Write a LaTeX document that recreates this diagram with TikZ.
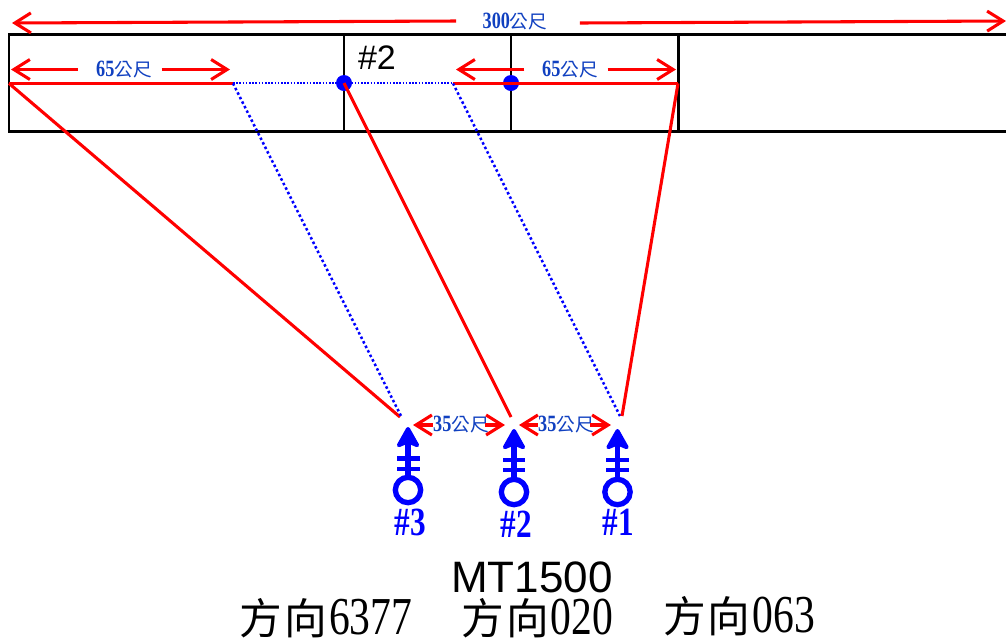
\documentclass[tikz,border=0pt]{standalone}
\usepackage{fontspec}
\newfontfamily\cjkfont{Noto Sans CJK TC}
\newfontfamily\numfont[FakeStretch=0.78,Scale=1.25]{Liberation Serif}
\newfontfamily\labelfont{Liberation Sans}
\usetikzlibrary{arrows.meta}
\definecolor{dimblue}{RGB}{16,64,192}
\newcommand{\dimtext}[1]{{\numfont\bfseries #1}{\cjkfont 公尺}}
\newcommand{\dirtext}[1]{{\cjkfont 方\hspace{1.5pt}向\hspace{1.5pt}}{\numfont #1}}
\tikzset{every picture/.style={line width=0.75pt}}
\tikzset{
	redline/.style={draw=red,line width=2.3pt},
	dimline/.style={draw=red,line width=2.3pt,-{Straight Barb[length=12pt,width=15pt,line width=2.3pt]}},
	dotline/.style={draw=blue,line width=1.9pt,dash pattern=on 1.9pt off 1.9pt},
	dotthin/.style={draw=blue,line width=1.5pt,dash pattern=on 1.2pt off 1.2pt},
	dimlabel/.style={text=dimblue,font=\fontsize{14}{16}\selectfont,inner sep=0pt},
	antenna/.style={circle,draw=blue,line width=4pt,minimum size=19pt,inner sep=0pt},
	mast/.style={draw=blue,line width=4pt,-{Stealth[length=18pt,width=20pt,inset=4pt,line width=3pt,round]}},
	crossbar/.style={draw=blue,line width=3.2pt},
	sitelabel/.style={text=blue,font=\fontsize{24}{30}\selectfont\numfont\bfseries,inner sep=0pt},
	dirlabel/.style={font=\fontsize{32}{36}\selectfont,inner sep=0pt}
}
\begin{document}
\begin{tikzpicture}[x=0.75pt,y=0.75pt,yscale=-1]
	\useasboundingbox (0,0) rectangle (1006,637);
	%Shape: Rectangle
	\draw [line width=2.1pt] (1012,34.5) -- (9,34.5) -- (9,131.5) -- (1012,131.5) ;
	%Straight Lines
	\draw [line width=2.2pt] (344,34.5) -- (344,131.5) ;
	\draw [line width=2.2pt] (511,34.5) -- (511,131.5) ;
	\draw [line width=2.3pt] (678.4,34.5) -- (678.4,131.5) ;
	\node [font=\fontsize{25.5}{28}\selectfont\labelfont,inner sep=0pt] (boxno) at (377,58) {\#2};

	%Points on the middle line
	\coordinate (far) at (9,83.4);
	\coordinate (farend) at (233,83.4);
	\coordinate (nearstart) at (453,83.4);
	\coordinate (near) at (678,83.4);
	\node [circle,fill=blue,minimum size=12pt,inner sep=0pt] (dotA) at (344,83) {};
	\node [circle,fill=blue,minimum size=12pt,inner sep=0pt] (dotB) at (511,83) {};
	\draw [dotthin] (farend) -- (nearstart) ;
	\draw [redline] (far) -- (farend) ;
	\draw [redline] (nearstart) -- (near) ;

	%Top dimensions
	\node [dimlabel] (lab300) at (515,22) {\dimtext{300}};
	\coordinate (tip300a) at (12,23);
	\coordinate (tip300b) at (1006,21);
	\draw [dimline] ([xshift=-19.5pt,yshift=-0.75pt]lab300.west) -- (tip300a) ;
	\draw [dimline] ([xshift=24pt,yshift=0.75pt]lab300.east) -- (tip300b) ;
	\node [dimlabel] (lab65a) at (124,69.5) {\dimtext{65}};
	\coordinate (tip65a) at (11,69.5);
	\coordinate (tip65b) at (230,69.5);
	\draw [dimline] ([xshift=-13.5pt]lab65a.west) -- (tip65a) ;
	\draw [dimline] ([xshift=7pt]lab65a.east) -- (tip65b) ;
	\node [dimlabel] (lab65b) at (570,69.5) {\dimtext{65}};
	\coordinate (tip65c) at (456,69.5);
	\coordinate (tip65d) at (676,69.5);
	\draw [dimline] ([xshift=-13pt]lab65b.west) -- (tip65c) ;
	\draw [dimline] ([xshift=7pt]lab65b.east) -- (tip65d) ;

	%Antennas
	\node [antenna] (ant3) at (408,490) {};
	\node [antenna] (ant2) at (514,492) {};
	\node [antenna] (ant1) at (617.5,492) {};
	\coordinate (tip3) at (408,427);
	\coordinate (tip2) at (514,429);
	\coordinate (tip1) at (617.5,429);
	\draw [mast] (ant3) -- (tip3) ;
	\draw [mast] (ant2) -- (tip2) ;
	\draw [mast] (ant1) -- (tip1) ;
	%Straight Lines
	\draw [crossbar] (397,458.5) -- (420,458.5) ;
	\draw [crossbar] (397,469) -- (420,469) ;
	\draw [crossbar] (503,460) -- (525,460) ;
	\draw [crossbar] (503,470) -- (525,470) ;
	\draw [crossbar] (606,460) -- (629,460) ;
	\draw [crossbar] (606,470) -- (629,470) ;
	\node [sitelabel] (site3) at (410,522) {\#3};
	\node [sitelabel] (site2) at (516,524) {\#2};
	\node [sitelabel] (site1) at (618,522) {\#1};

	%Beam ends
	\coordinate (foot3a) at (400,417);
	\coordinate (foot3b) at (401,416);
	\coordinate (foot2) at (511,417);
	\coordinate (foot1a) at (620,416);
	\coordinate (foot1b) at (622,416);
	\draw [redline] (far) -- (foot3a) ;
	\draw [dotline] (farend) -- (foot3b) ;
	\draw [redline] (dotA.center) -- (foot2) ;
	\draw [dotline] (nearstart) -- (foot1a) ;
	\draw [redline] (near) -- (foot1b) ;

	%Bottom dimensions
	\node [dimlabel] (lab35a) at (461,425) {\dimtext{35}};
	\coordinate (tip35a) at (413,425);
	\coordinate (tip35b) at (505,425);
	\draw [dimline] (lab35a.west) -- (tip35a) ;
	\draw [dimline] ([xshift=-3pt]lab35a.east) -- (tip35b) ;
	\node [dimlabel] (lab35b) at (566,425) {\dimtext{35}};
	\coordinate (tip35c) at (519,425);
	\coordinate (tip35d) at (611,425);
	\draw [dimline] (lab35b.west) -- (tip35c) ;
	\draw [dimline] ([xshift=-3pt]lab35b.east) -- (tip35d) ;

	%Captions
	\node [font=\fontsize{33}{36}\selectfont\labelfont,inner sep=0pt] (model) at (532,577) {MT1500};
	\node [dirlabel] (dir3) at (326,618) {\dirtext{6377}};
	\node [dirlabel] (dir2) at (537.5,618) {\dirtext{020}};
	\node [dirlabel] (dir1) at (739,616) {\dirtext{063}};
\end{tikzpicture}
\end{document}
